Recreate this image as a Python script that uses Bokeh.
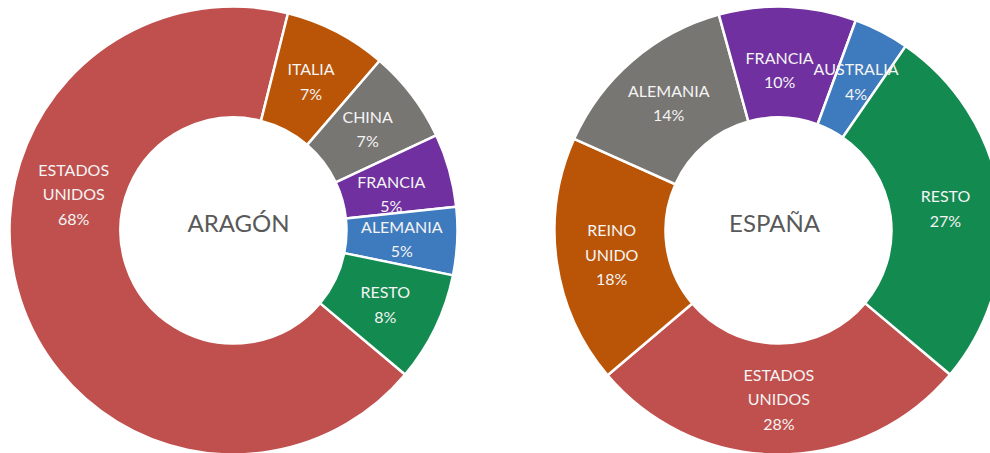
import math
from bokeh.plotting import figure
from bokeh.models import Range1d, ColumnDataSource
from bokeh.core.properties import value
from bokeh.embed import file_html
from bokeh.resources import INLINE

# ---------------- data ----------------
aragon_title = "ARAGÓN"
aragon_labels = ["ESTADOS\nUNIDOS", "ITALIA", "CHINA", "FRANCIA", "ALEMANIA", "RESTO"]
aragon_values = [67.8, 7.4, 6.7, 5.3, 4.9, 7.9]

espana_title = "ESPAÑA"
espana_labels = ["ESTADOS\nUNIDOS", "REINO\nUNIDO", "ALEMANIA", "FRANCIA", "AUSTRALIA", "RESTO"]
espana_values = [27.7, 17.9, 14.0, 9.9, 4.0, 26.5]

# ---------------- style / layout ----------------
slice_colors = ["#C0504D", "#BA5507", "#787673", "#7030A0", "#3E7BBE", "#138A50"]
FIRST_SLICE_ANGLE = 130.0   # degrees clockwise from 12 o'clock (Excel style)
R_OUT, R_IN = 224.0, 113.0
W, H = 990, 453

# manually moved data labels: slice index -> (angle clockwise from top, radius)
aragon_label_moves = {0: (283.0, 164.0), 3: (76.8, 162.0)}
espana_label_moves = {3: (0.4, 161.0)}

p = figure(width=W, height=H, x_range=Range1d(0, W), y_range=Range1d(0, H),
           output_backend="svg", toolbar_location=None, min_border=0,
           x_axis_location=None, y_axis_location=None, title=None)
p.grid.visible = False
p.outline_line_color = None
p.background_fill_color = "white"
p.border_fill_color = "white"


def fmt_pct(v, total):
    return f"{int(v / total * 100 + 0.5)}%"


def donut(cx, cy, labels, values, title, title_dx, label_moves):
    total = float(sum(values))
    starts, ends, lx, ly, texts = [], [], [], [], []
    theta = FIRST_SLICE_ANGLE
    r_mid = (R_OUT + R_IN) / 2
    for i, (lab, v) in enumerate(zip(labels, values)):
        span = v / total * 360.0
        t1, t2 = theta, theta + span
        starts.append(math.radians(90 - t2))
        ends.append(math.radians(90 - t1))
        mid, rr = label_moves.get(i, ((t1 + t2) / 2, r_mid))
        lx.append(cx + rr * math.sin(math.radians(mid)))
        ly.append(cy + rr * math.cos(math.radians(mid)))
        texts.append(f"{lab}\n{fmt_pct(v, total)}")
        theta = t2
    src = ColumnDataSource(dict(start=starts, end=ends, color=slice_colors[:len(values)]))
    p.annular_wedge(x=cx, y=cy, inner_radius=R_IN, outer_radius=R_OUT,
                    start_angle="start", end_angle="end", fill_color="color",
                    line_color="white", line_width=2.5, source=src)
    tsrc = ColumnDataSource(dict(x=lx, y=ly, text=texts))
    p.text(x="x", y="y", text="text", source=tsrc, text_align="center",
           text_baseline="middle", text_font=value("Lato"), text_font_size="16px",
           text_color="#F4F4F4", text_line_height=1.29)
    p.text(x=[cx + title_dx], y=[cy + 8], text=[title], text_align="center",
           text_baseline="middle", text_font=value("Lato"), text_font_size="24px",
           text_color="#595959")


# centres in page pixel coordinates -> data (y up)
donut(233, H - 230, aragon_labels, aragon_values, aragon_title, 5, aragon_label_moves)
donut(778, H - 230, espana_labels, espana_values, espana_title, -4, espana_label_moves)

open("out.html", "w").write(file_html(p, INLINE))
